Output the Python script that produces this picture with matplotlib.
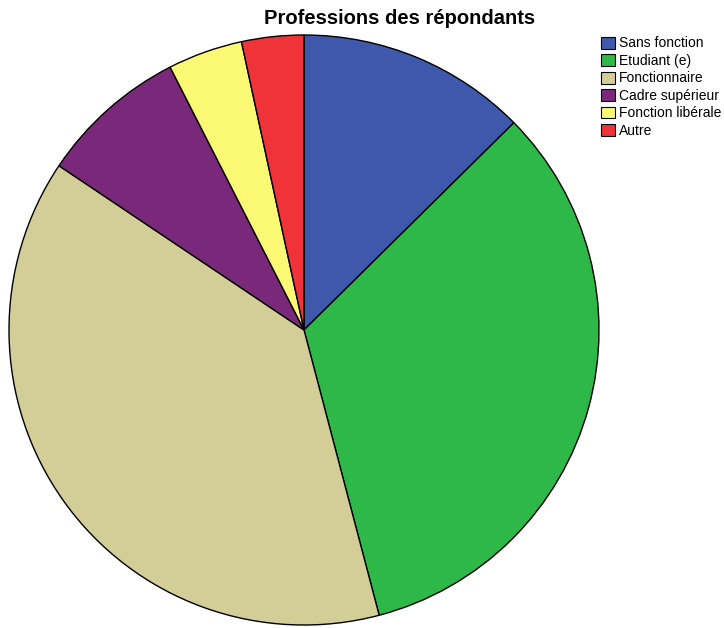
import matplotlib.pyplot as plt
from matplotlib.patches import Patch

labels = ["Sans fonction", "Etudiant (e)", "Fonctionnaire", "Cadre supérieur",
          "Fonction libérale", "Autre"]
values = [12.6, 33.3, 38.5, 8.1, 4.1, 3.4]
colors = ["#3E58AC", "#2EB848", "#D3CE97", "#7A287A", "#FBF873", "#EF3338"]

W, H = 724, 628
fig = plt.figure(figsize=(W / 100, H / 100), dpi=100)
fig.patch.set_facecolor("white")

ax = fig.add_axes([9 / W, 3 / H, 590 / W, 590 / H])
ax.pie(values, colors=colors, startangle=90, counterclock=False,
       wedgeprops=dict(edgecolor="black", linewidth=1.0))
ax.set_aspect("equal")
ax.set_xlim(-1, 1)
ax.set_ylim(-1, 1)
ax.axis("off")

fig.text(400 / W, 1 - 18 / H, "Professions des répondants", ha="center", va="center",
         fontsize=14.5, fontweight="bold", family="Liberation Sans")

handles = [Patch(facecolor=c, edgecolor="black", linewidth=0.8) for c in colors]
fig.legend(handles, labels, loc="upper left", bbox_to_anchor=(600 / W, 1 - 35 / H),
           frameon=False, prop=dict(family="Liberation Sans", size=10),
           handlelength=0.95, handleheight=0.95, handletextpad=0.3,
           labelspacing=0.25, borderpad=0.1, borderaxespad=0)

fig.savefig("out.png", dpi=100)
